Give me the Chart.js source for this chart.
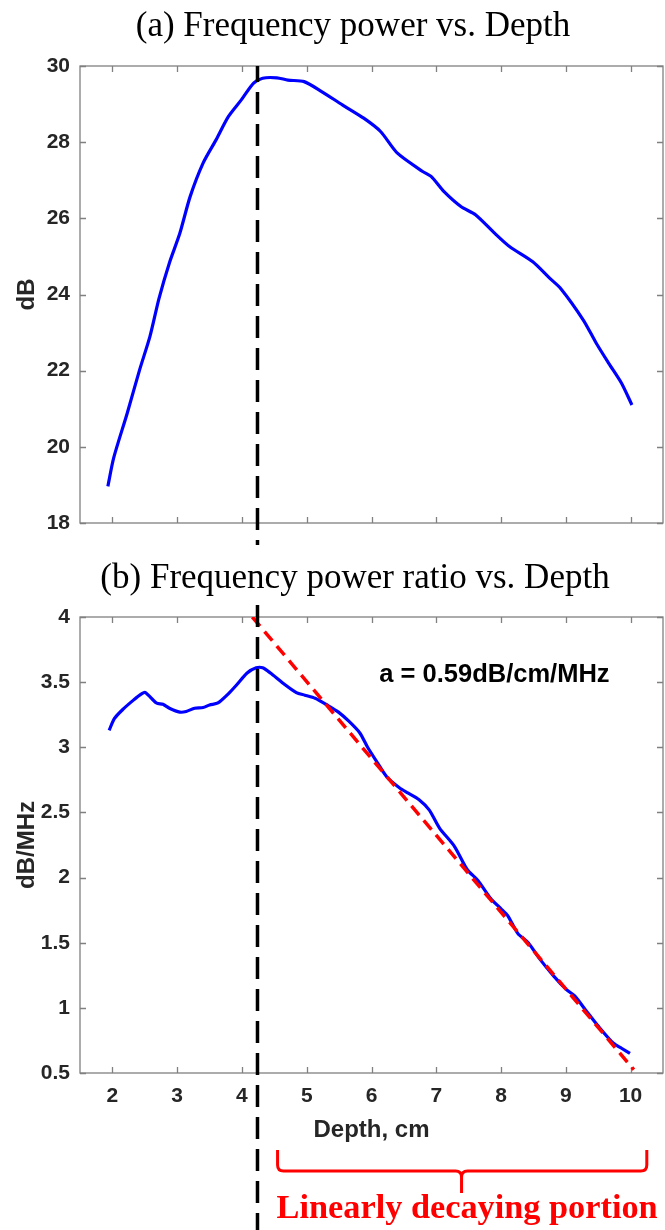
<!DOCTYPE html>
<html>
<head>
<meta charset="utf-8">
<title>Frequency power vs. Depth</title>
<script src="https://cdn.jsdelivr.net/npm/chart.js@4.4.1/dist/chart.umd.min.js"></script>
<style>
  body { margin: 0; background: #fff; }
  #wrap { position: relative; width: 665px; height: 1230px; }
  .panel { position: absolute; left: 0; width: 665px; }
</style>
</head>
<body>
<div id="wrap">
  <div class="panel" style="top:0;height:550px"><canvas id="chartA"></canvas></div>
  <div class="panel" style="top:550px;height:680px"><canvas id="chartB"></canvas></div>
</div>

<script>
// (a) frequency power, dB
const depthA = [1.93, 2.02, 2.23, 2.42, 2.58, 2.72, 2.88, 3.04, 3.20, 3.40, 3.60, 3.79, 3.99, 4.18, 4.32,
  4.54, 4.71, 4.96, 5.23, 5.55, 5.88, 6.14, 6.40, 6.79, 6.92, 7.12, 7.38, 7.61, 7.90, 8.13, 8.49,
  8.75, 8.92, 9.27, 9.47, 9.66, 9.86, 10.02];
const powerA = [18.96, 19.71, 20.89, 22.02, 22.9, 23.9, 24.83, 25.6, 26.57, 27.45, 28.06, 28.67, 29.11, 29.55, 29.68,
  29.69, 29.63, 29.59, 29.33, 28.98, 28.63, 28.28, 27.71, 27.23, 27.1, 26.7, 26.31, 26.09, 25.61, 25.26, 24.86,
  24.43, 24.16, 23.33, 22.72, 22.2, 21.67, 21.1];

// (b) frequency power ratio, dB/MHz
const depthB = [1.95, 2.03, 2.16, 2.32, 2.45, 2.51, 2.68, 2.78, 2.88, 3.04, 3.14, 3.27, 3.40, 3.50, 3.63, 3.79,
  3.92, 4.08, 4.22, 4.32, 4.44, 4.64, 4.84, 4.97, 5.13, 5.33, 5.49, 5.65, 5.82, 5.94, 6.08, 6.24, 6.43,
  6.56, 6.73, 6.89, 7.05, 7.28, 7.48, 7.64, 7.84, 8.00, 8.10, 8.26, 8.42, 8.59, 8.82, 9.01, 9.14, 9.31,
  9.50, 9.73, 9.86, 9.99];
const ratioB = [3.13, 3.22, 3.29, 3.36, 3.41, 3.42, 3.34, 3.33, 3.30, 3.27, 3.275, 3.30, 3.305, 3.325, 3.34, 3.41,
  3.48, 3.57, 3.61, 3.61, 3.57, 3.49, 3.42, 3.40, 3.376, 3.32, 3.27, 3.20, 3.11, 3.0, 2.89, 2.77, 2.69,
  2.65, 2.60, 2.52, 2.38, 2.24, 2.06, 1.98, 1.84, 1.76, 1.71, 1.57, 1.50, 1.38, 1.24, 1.14, 1.09, 0.98,
  0.86, 0.73, 0.69, 0.65];

// linear fit of the decaying part
const fitDepth = [4.16, 10.05];
const fitRatio = [4.0, 0.525];

const peakDepth = 4.24;
const xTicks = [2, 3, 4, 5, 6, 7, 8, 9, 10];
const slopeText = 'a = 0.59dB/cm/MHz';
const slopeAt = [6.12, 3.5];
const braceFrom = 4.55, braceTo = 10.25, braceTip = 7.39;
const braceText = 'Linearly decaying portion';

const SANS = '"Liberation Sans", Arial, sans-serif';
const SERIF = '"Liberation Serif", "Times New Roman", serif';
const INK = '#262626';

const pts = (xs, ys) => xs.map((x, i) => ({ x: x, y: ys[i] }));

// matlab style box, ticks pointing inward on all four sides
const boxPlugin = {
  id: 'box',
  beforeDatasetsDraw(chart) {
    const { ctx, chartArea: a, scales: { x, y } } = chart;
    ctx.save();
    ctx.strokeStyle = '#808080';
    ctx.lineWidth = 1.3;
    ctx.strokeRect(a.left, a.top, a.right - a.left, a.bottom - a.top);
    ctx.beginPath();
    x.ticks.forEach(t => {
      const px = Math.round(x.getPixelForValue(t.value)) + 0.5;
      ctx.moveTo(px, a.bottom); ctx.lineTo(px, a.bottom - 6);
      ctx.moveTo(px, a.top); ctx.lineTo(px, a.top + 6);
    });
    y.ticks.forEach(t => {
      const py = Math.round(y.getPixelForValue(t.value)) + 0.5;
      ctx.moveTo(a.left, py); ctx.lineTo(a.left + 6, py);
      ctx.moveTo(a.right, py); ctx.lineTo(a.right - 6, py);
    });
    ctx.stroke();
    ctx.restore();
  }
};

// titles, axis names and the vertical peak line
const notesPlugin = {
  id: 'notes',
  afterDraw(chart, args, o) {
    const { ctx, chartArea: a, scales: { x, y } } = chart;
    ctx.save();
    ctx.fillStyle = '#000';
    ctx.font = '35px ' + SERIF;
    ctx.textAlign = 'center';
    ctx.textBaseline = 'alphabetic';
    ctx.fillText(o.title, o.titleX, o.titleY);

    ctx.fillStyle = INK;
    ctx.font = 'bold 24px ' + SANS;
    ctx.save();
    ctx.translate(27, (a.top + a.bottom) / 2);
    ctx.rotate(-Math.PI / 2);
    ctx.textBaseline = 'middle';
    ctx.fillText(o.yTitle, 0, 0);
    ctx.restore();
    if (o.xTitle) ctx.fillText(o.xTitle, (a.left + a.right) / 2, a.bottom + 64);

    const px = x.getPixelForValue(peakDepth);
    ctx.strokeStyle = '#000';
    ctx.lineWidth = 3.5;
    ctx.setLineDash([22, 10]);
    ctx.lineDashOffset = o.dashOffset;
    ctx.beginPath();
    ctx.moveTo(px, a.top + o.lineStart);
    ctx.lineTo(px, o.lineEnd === 'edge' ? chart.height : a.bottom + o.lineEnd);
    ctx.stroke();
    ctx.setLineDash([]);

    if (o.extra) o.extra(chart);
    ctx.restore();
  }
};

function fitBox(w, h) {
  return {
    x: s => { s.height = h; },
    y: s => { s.width = w; }
  };
}

function baseScales(yMin, yMax, yStep, showX, xHeight) {
  const fit = fitBox(80, xHeight);
  return {
    x: {
      type: 'linear', min: 1.5, max: 10.5,
      afterBuildTicks: s => { s.ticks = xTicks.map(v => ({ value: v })); },
      afterFit: fit.x,
      grid: { display: false, drawTicks: false },
      border: { display: false },
      ticks: { display: showX, padding: 11, color: INK, font: { family: SANS, size: 21, weight: 'bold' } }
    },
    y: {
      min: yMin, max: yMax,
      afterFit: fit.y,
      grid: { display: false, drawTicks: false },
      border: { display: false },
      ticks: { stepSize: yStep, padding: 10, color: INK, callback: v => String(v),
        font: { family: SANS, size: 21, weight: 'bold' } }
    }
  };
}

new Chart('chartA', {
  type: 'line',
  data: {
    datasets: [{
      data: pts(depthA, powerA),
      borderColor: '#0000ff', borderWidth: 3.2, pointRadius: 0, tension: 0.25
    }]
  },
  options: {
    responsive: true, maintainAspectRatio: false, animation: false,
    layout: { padding: { top: 66, right: 2, left: 0, bottom: 0 } },
    scales: baseScales(18, 30, 2, false, 27),
    plugins: {
      legend: { display: false }, tooltip: { enabled: false },
      notes: { title: '(a) Frequency power vs. Depth', titleX: 353, titleY: 36, yTitle: 'dB',
        dashOffset: 6, lineStart: 0, lineEnd: 22 }
    }
  },
  plugins: [boxPlugin, notesPlugin]
});

function drawBrace(chart) {
  const { ctx, chartArea: a, scales: { x, y } } = chart;
  ctx.fillStyle = '#000';
  ctx.font = 'bold 25.5px ' + SANS;
  ctx.textAlign = 'left';
  ctx.fillText(slopeText, x.getPixelForValue(slopeAt[0]), y.getPixelForValue(slopeAt[1]));

  const l = x.getPixelForValue(braceFrom), r = x.getPixelForValue(braceTo), m = x.getPixelForValue(braceTip);
  const top = a.bottom + 77, mid = a.bottom + 98, tip = a.bottom + 120, rr = 6;
  ctx.strokeStyle = '#ff0000';
  ctx.lineWidth = 3;
  ctx.beginPath();
  ctx.moveTo(l, top);
  ctx.lineTo(l, mid - rr);
  ctx.quadraticCurveTo(l, mid, l + rr, mid);
  ctx.lineTo(m - rr, mid);
  ctx.quadraticCurveTo(m, mid, m, mid + rr);
  ctx.lineTo(m, tip);
  ctx.moveTo(m, mid + rr);
  ctx.quadraticCurveTo(m, mid, m + rr, mid);
  ctx.lineTo(r - rr, mid);
  ctx.quadraticCurveTo(r, mid, r, mid - rr);
  ctx.lineTo(r, top);
  ctx.stroke();

  ctx.fillStyle = '#ff0000';
  ctx.font = 'bold 34.3px ' + SERIF;
  ctx.fillText(braceText, l - 1, a.bottom + 145);
}

new Chart('chartB', {
  type: 'line',
  data: {
    datasets: [{
      data: pts(fitDepth, fitRatio),
      borderColor: '#ff0000', borderWidth: 3.5, borderDash: [12, 7], pointRadius: 0, order: 0
    }, {
      data: pts(depthB, ratioB),
      borderColor: '#0000ff', borderWidth: 3.2, pointRadius: 0, tension: 0.25, order: 1
    }]
  },
  options: {
    responsive: true, maintainAspectRatio: false, animation: false,
    layout: { padding: { top: 67, right: 2, left: 0, bottom: 0 } },
    scales: baseScales(0.5, 4, 0.5, true, 157),
    plugins: {
      legend: { display: false }, tooltip: { enabled: false },
      notes: { title: '(b) Frequency power ratio vs. Depth', titleX: 355, titleY: 38, yTitle: 'dB/MHz',
        xTitle: 'Depth, cm', dashOffset: 31, lineStart: -13, lineEnd: 'edge', extra: drawBrace }
    }
  },
  plugins: [boxPlugin, notesPlugin]
});
</script>
</body>
</html>
